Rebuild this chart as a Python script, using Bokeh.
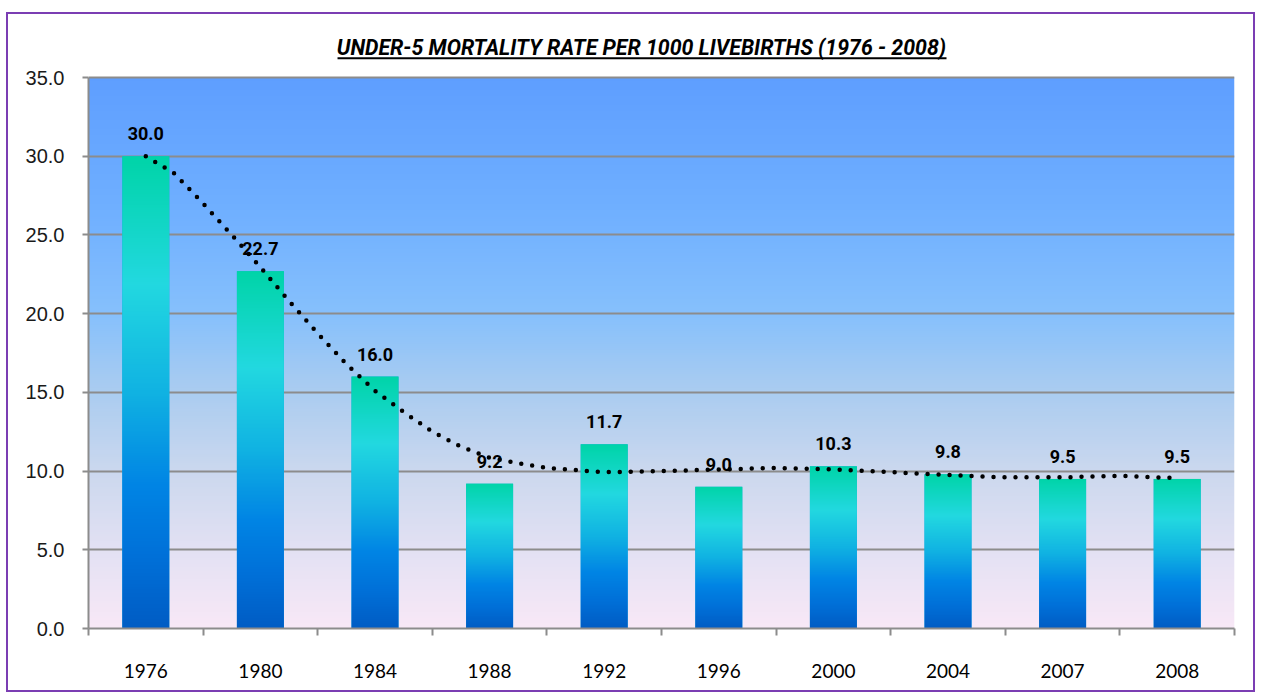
import numpy as np
from bokeh.plotting import figure
from bokeh.models import (ColumnDataSource, FixedTicker, LabelSet, Label,
                          PrintfTickFormatter, Range1d)
from bokeh.core.properties import value
from bokeh.embed import file_html
from bokeh.resources import INLINE

# ---------------- data ----------------
years = ["1976", "1980", "1984", "1988", "1992", "1996", "2000", "2004", "2007", "2008"]
rates = [30.0, 22.7, 16.0, 9.2, 11.7, 9.0, 10.3, 9.8, 9.5, 9.5]
# trend curve (position in category units, value)
trend_pos = [0.5, 0.75, 1.0, 1.25, 1.5, 1.75, 2.0, 2.25, 2.5, 2.75, 3.0, 3.25, 3.5, 3.75,
             4.0, 4.5, 5.0, 5.5, 6.0, 6.5, 7.0, 7.5, 8.0, 8.5, 9.0, 9.5]
trend_val = [30.0, 28.9, 27.0, 25.0, 22.95, 20.8, 18.75, 16.8, 15.1, 13.75, 12.5, 11.55, 10.85, 10.5,
             10.2, 9.93, 10.0, 10.1, 10.2, 10.1, 9.93, 9.75, 9.6, 9.6, 9.7, 9.55]
y_ticks = [0, 5, 10, 15, 20, 25, 30, 35]
title_text = "UNDER-5 MORTALITY RATE PER 1000 LIVEBIRTHS (1976 - 2008)"

# ---------------- layout constants ----------------
Y_MAX = 35
Y_TOP = 38.113          # frame extends above the axis to hold the title
TITLE_X, TITLE_Y = 4.825, 36.90
ULINE_X0, ULINE_X1, ULINE_Y = 2.173, 7.487, 36.22


def gradient(stops, n=256):
    t = np.linspace(0, 1, n)
    ts = [s[0] for s in stops]
    img = np.empty((n, 1), dtype=np.uint32)
    view = img.view(dtype=np.uint8).reshape((n, 1, 4))
    for c in range(3):
        view[:, 0, c] = np.interp(t, ts, [s[1][c] for s in stops]).round().astype(np.uint8)
    view[:, 0, 3] = 255
    return img


bg_img = gradient([
    (0.00, (248, 232, 246)),
    (0.12, (230, 226, 244)),
    (0.28, (204, 216, 238)),
    (0.43, (170, 204, 240)),
    (0.57, (134, 192, 252)),
    (0.75, (112, 176, 255)),
    (1.00, (94, 158, 255)),
])
bar_img = gradient([
    (0.00, (0, 92, 196)),
    (0.15, (0, 112, 216)),
    (0.30, (0, 132, 228)),
    (0.50, (16, 178, 226)),
    (0.73, (34, 216, 224)),
    (1.00, (0, 212, 168)),
])

n = len(years)
centers = [i + 0.5 for i in range(n)]
bar_w = 0.41
src = ColumnDataSource(dict(
    x=centers, top=rates, left=[c - bar_w / 2 for c in centers],
    img=[bar_img] * n,
    label=["%.1f" % r for r in rates]))

p = figure(width=1249, height=680, x_range=Range1d(0, n), y_range=Range1d(0, Y_TOP),
           output_backend="svg", toolbar_location=None,
           min_border_left=80, min_border_right=23, min_border_top=14, min_border_bottom=66)
p.outline_line_color = None
p.background_fill_color = "white"
p.border_fill_color = "white"
p.styles = {"border": "2px solid #7B3DB3", "margin-top": "12px", "margin-left": "6px"}

# background gradient of the plot area
p.image_rgba(image=[bg_img], x=0, y=0, dw=n, dh=Y_MAX, level="image")

# bars
p.vbar(x="x", top="top", width=bar_w, source=src, fill_color="#10A8E0", line_color=None)
p.image_rgba(image="img", x="left", y=0, dw=bar_w, dh="top", source=src)

# trend line (dotted)
p.line(trend_pos, trend_val, line_color="black", line_width=4.5, line_dash="0 11",
       line_cap="round")

# data labels
p.add_layout(LabelSet(x="x", y="top", text="label", source=src, text_align="center",
                      text_baseline="alphabetic", y_offset=16, text_font=value("Roboto"),
                      text_font_style="bold", text_font_size=value("18px"),
                      text_color="black"))

# title + underline
p.add_layout(Label(x=TITLE_X, y=TITLE_Y, text=title_text, text_align="center",
                   text_baseline="alphabetic", text_font="Roboto",
                   text_font_style="bold italic", text_font_size="21.3px", text_color="black"))
p.segment(x0=[ULINE_X0], x1=[ULINE_X1], y0=[ULINE_Y], y1=[ULINE_Y],
          line_color="black", line_width=2)

# axes
xa = p.xaxis[0]
xa.ticker = FixedTicker(ticks=centers, minor_ticks=list(range(n + 1)))
xa.major_label_overrides = {c: y for c, y in zip(centers, years)}
xa.major_tick_line_color = None
xa.major_tick_out = 0
xa.major_tick_in = 0
xa.minor_tick_out = 7
xa.minor_tick_in = 0
xa.minor_tick_line_color = "#8C8C8C"
xa.minor_tick_line_width = 2
xa.axis_line_color = "#8C8C8C"
xa.axis_line_width = 2
xa.major_label_standoff = 28
xa.major_label_text_font = "Lato"
xa.major_label_text_font_size = "19px"
xa.major_label_text_color = "black"

ya = p.yaxis[0]
ya.bounds = (0, Y_MAX)
ya.ticker = FixedTicker(ticks=y_ticks)
ya.formatter = PrintfTickFormatter(format="%.1f")
ya.minor_tick_line_color = None
ya.major_tick_out = 6
ya.major_tick_in = 0
ya.major_tick_line_color = "#8C8C8C"
ya.major_tick_line_width = 2
ya.axis_line_color = "#8C8C8C"
ya.axis_line_width = 2
ya.major_label_standoff = 18
ya.major_label_text_font = "Liberation Sans"
ya.major_label_text_font_size = "20px"
ya.major_label_text_color = "#1a1a1a"

p.xgrid.visible = False
p.ygrid.grid_line_color = "#8C8C8C"
p.ygrid.grid_line_width = 2

open("out.html", "w").write(file_html(p, INLINE))
